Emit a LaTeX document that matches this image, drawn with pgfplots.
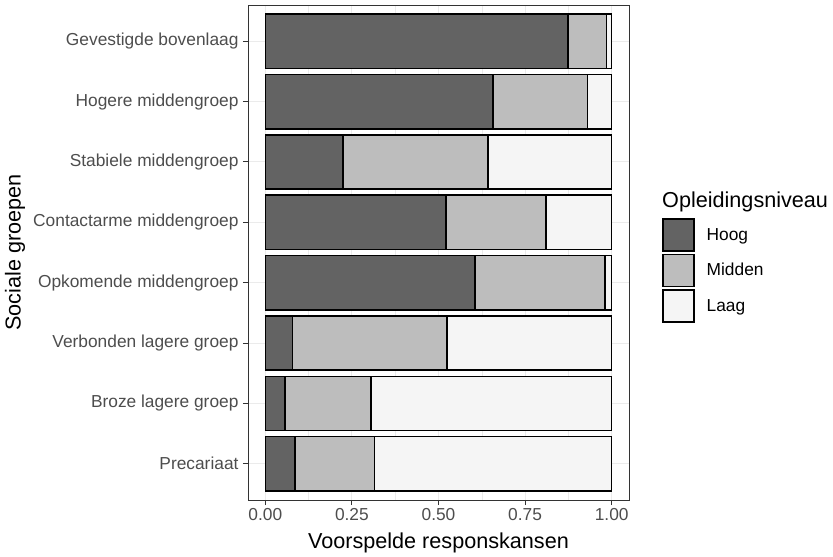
\documentclass[border=0pt]{standalone}
\usepackage{pgfplots}
\pgfplotsset{compat=1.18}
\usepackage{pgfplotstable}
\usepackage{fontspec}
\setmainfont{Liberation Sans}

\definecolor{hoog}{HTML}{636363}
\definecolor{midden}{HTML}{BDBDBD}
\definecolor{laag}{HTML}{F5F5F5}
\definecolor{gridc}{HTML}{EBEBEB}
\definecolor{tickc}{HTML}{4D4D4D}
\definecolor{framec}{HTML}{333333}

% y: 8 = top row
\pgfplotstableread{
y hoog  midden laag
8 0.874 0.111 0.015
7 0.658 0.272 0.070
6 0.225 0.418 0.357
5 0.521 0.289 0.190
4 0.605 0.375 0.020
3 0.078 0.447 0.475
2 0.057 0.248 0.695
1 0.086 0.229 0.685
}\groepen

\begin{document}
\begin{tikzpicture}
\begin{axis}[
    scale only axis,
    width=381bp, height=495bp,
    clip=false,
    xbar stacked, bar width=0.9,
    xmin=-0.05, xmax=1.05,
    ymin=0.4, ymax=8.6,
    xtick={0,0.25,0.5,0.75,1},
    minor x tick num=1,
    ytick={1,...,8},
    yticklabels={Precariaat, Broze lagere groep, Verbonden lagere groep,
        Opkomende middengroep, Contactarme middengroep, Stabiele middengroep,
        Hogere middengroep, Gevestigde bovenlaag},
    xtick pos=bottom, ytick pos=left,
    tick align=outside,
    major tick length=5bp, minor tick length=0pt,
    every tick/.style={framec, line width=1.07bp},
    grid=both,
    major grid style={gridc, line width=1.07bp},
    minor grid style={gridc, line width=0.53bp},
    axis line style={framec, line width=0.8bp},
    tick label style={tickc, font=\fontsize{17.4}{20}\selectfont},
    yticklabel style={xshift=-1bp},
    xticklabel style={/pgf/number format/.cd, fixed, fixed zerofill, precision=2, assume math mode=true},
    label style={font=\fontsize{21.7}{26}\selectfont},
    xlabel={Voorspelde responskansen},
    ylabel={Sociale groepen},
    xlabel style={at={(rel axis cs:0.5,0)}, anchor=base, yshift=-48bp},
    ylabel style={at={(rel axis cs:-0.6115,0.5)}, anchor=center},
    legend style={at={(rel axis cs:1.0866,0.5697)}, anchor=north west,
        draw=none, fill=none, inner sep=0pt, row sep=2bp,
        font=\fontsize{17.4}{20}\selectfont, nodes={inner xsep=12bp}},
    legend cell align=left,
    legend image code/.code={\draw[#1,/tikz/.cd,line width=1.5bp] (0bp,-16bp) rectangle (31bp,16bp);},
]
\addplot[fill=hoog, draw=black, line width=1.5bp] table[x=hoog, y=y] {\groepen};
\addplot[fill=midden, draw=black, line width=1.5bp] table[x=midden, y=y] {\groepen};
\addplot[fill=laag, draw=black, line width=1.5bp] table[x=laag, y=y] {\groepen};
\legend{Hoog, Midden, Laag}
\node[anchor=base west, font=\fontsize{21.7}{26}\selectfont, inner sep=0pt] at (rel axis cs:1.0866,0.590) {Opleidingsniveau};
\end{axis}
\pgfresetboundingbox
\path (-248bp,-57bp) rectangle (585bp,500bp);
\end{tikzpicture}
\end{document}
